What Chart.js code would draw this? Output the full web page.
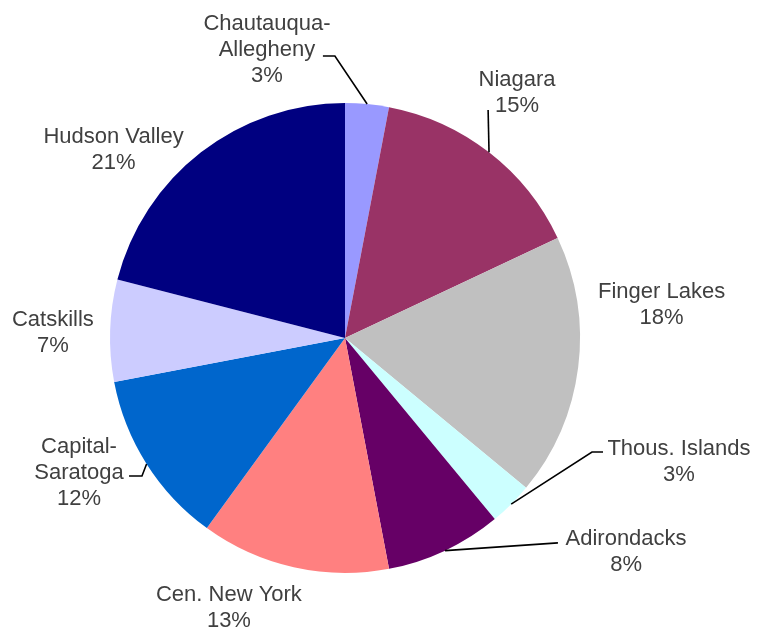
<!DOCTYPE html>
<html>
<head>
<meta charset="utf-8">
<title>Regions share</title>
<script src="https://cdn.jsdelivr.net/npm/chart.js@4/dist/chart.umd.min.js"></script>
<style>
  html, body { margin: 0; padding: 0; background: #fff; }
  #wrap { width: 757px; height: 629px; position: relative; }
</style>
</head>
<body>
<div id="wrap"><canvas id="pieChart"></canvas></div>
<script>
// ── Data ──
const regions = [
  ["Chautauqua-", "Allegheny"],
  ["Niagara"],
  ["Finger Lakes"],
  ["Thous. Islands"],
  ["Adirondacks"],
  ["Cen. New York"],
  ["Capital-", "Saratoga"],
  ["Catskills"],
  ["Hudson Valley"]
];
const shares = [3, 15, 18, 3, 8, 13, 12, 7, 21];

// ── Style ──
const sliceColors = [
  "#9999FF", "#993366", "#C0C0C0", "#CCFFFF", "#660066",
  "#FF8080", "#0066CC", "#CCCCFF", "#000080"
];
// label block centre, in radius units from the pie centre
const labelOffsets = [
  [-0.332, -1.234], [0.732, -1.051], [1.347, -0.149],
  [1.421, 0.519], [1.196, 0.904], [-0.494, 1.143],
  [-1.132, 0.566], [-1.243, -0.028], [-0.985, -0.809]
];
// leader line points after the slice edge, in radius units
const leaders = [
  [[-0.043, -1.200], [-0.094, -1.200]],
  [[0.609, -0.970]],
  null,
  [[1.051, 0.485], [1.098, 0.485]],
  [[0.906, 0.872]],
  null,
  [[-0.864, 0.587], [-0.919, 0.587]],
  null,
  null
];
const FONT_SIZE = 22;
const LINE_H = 26;

const outsideLabels = {
  id: "outsideLabels",
  afterDatasetsDraw(chart) {
    const ctx = chart.ctx;
    const arcs = chart.getDatasetMeta(0).data;
    const total = shares.reduce((a, b) => a + b, 0);
    ctx.save();

    arcs.forEach((arc, i) => {
      const cx = arc.x, cy = arc.y, r = arc.outerRadius;
      const mid = (arc.startAngle + arc.endAngle) / 2;

      // ── Leader ──
      if (leaders[i]) {
        ctx.beginPath();
        ctx.moveTo(cx + r * Math.cos(mid), cy + r * Math.sin(mid));
        leaders[i].forEach(p => ctx.lineTo(cx + p[0] * r, cy + p[1] * r));
        ctx.strokeStyle = "#000";
        ctx.lineWidth = 1.6;
        ctx.stroke();
      }

      // ── Text ──
      const lines = regions[i].concat([Math.round(shares[i] / total * 100) + "%"]);
      const lx = cx + labelOffsets[i][0] * r;
      const ly = cy + labelOffsets[i][1] * r;
      ctx.font = FONT_SIZE + "px 'Liberation Sans', Arial, sans-serif";
      ctx.fillStyle = "#404040";
      ctx.textAlign = "center";
      ctx.textBaseline = "alphabetic";
      lines.forEach((txt, k) => {
        const capMid = ly + (k - (lines.length - 1) / 2) * LINE_H;
        ctx.fillText(txt, lx, capMid + 0.358 * FONT_SIZE);
      });
    });

    ctx.restore();
  }
};

new Chart(document.getElementById("pieChart"), {
  type: "pie",
  data: {
    labels: regions.map(r => r.join(" ")),
    datasets: [{
      data: shares,
      backgroundColor: sliceColors,
      borderWidth: 0
    }]
  },
  options: {
    responsive: true,
    maintainAspectRatio: false,
    animation: false,
    layout: { padding: { left: 110, top: 103, right: 177, bottom: 56 } },
    plugins: {
      legend: { display: false },
      tooltip: { enabled: false }
    }
  },
  plugins: [outsideLabels]
});
</script>
</body>
</html>
